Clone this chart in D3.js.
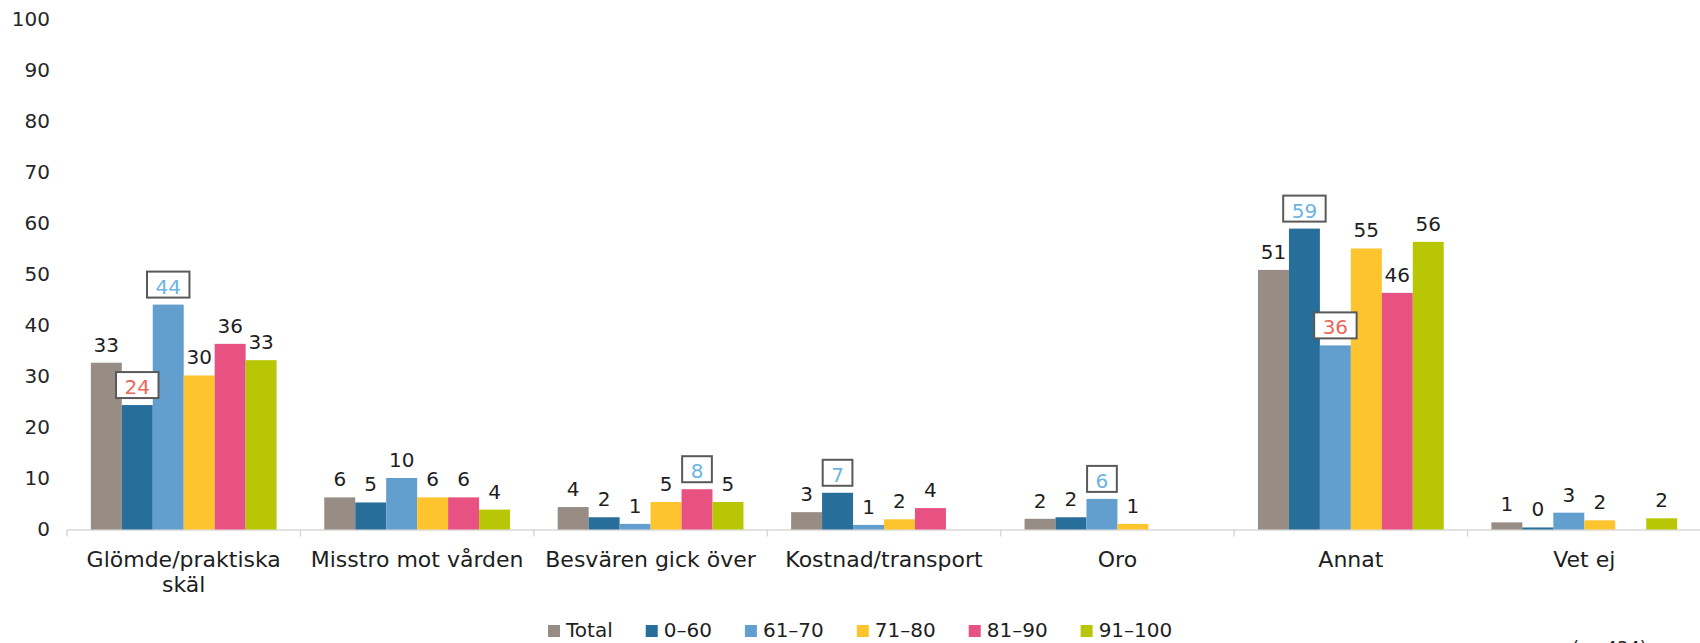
<!DOCTYPE html>
<html lang="sv">
<head>
<meta charset="utf-8">
<script src="https://cdn.jsdelivr.net/npm/d3@7"></script>
<style>
  html, body { margin: 0; padding: 0; background: #fff; }
  svg { display: block; font-family: "DejaVu Sans", sans-serif; }
</style>
</head>
<body>
<svg id="chart" width="1700" height="643"></svg>
<script>
// Reasons for not seeking care, percent by age group
const categories = ["Glömde/praktiska skäl", "Misstro mot vården", "Besvären gick över",
                    "Kostnad/transport", "Oro", "Annat", "Vet ej"];
const seriesNames = ["Total", "0–60", "61–70", "71–80", "81–90", "91–100"];
const seriesColors = ["#978D85", "#286E9B", "#629FCF", "#FDC42E", "#E85283", "#B8C605"];

const total    = [32.7, 6.3, 4.4, 3.4, 2.1, 50.9, 1.4];
const age0_60  = [24.4, 5.3, 2.4, 7.2, 2.4, 59.0, 0.4];
const age61_70 = [44.1, 10.1, 1.1, 0.9, 6.0, 36.1, 3.3];
const age71_80 = [30.2, 6.3, 5.4, 2.0, 1.1, 55.1, 1.8];
const age81_90 = [36.4, 6.3, 7.9, 4.2, null, 46.4, null];
const age91_100 = [33.2, 3.9, 5.4, null, null, 56.4, 2.2];
const seriesValues = [total, age0_60, age61_70, age71_80, age81_90, age91_100];

// Groups that differ significantly from the total
const sigHigher = [["Glömde/praktiska skäl", "61–70"], ["Besvären gick över", "81–90"],
                   ["Kostnad/transport", "0–60"], ["Oro", "61–70"], ["Annat", "0–60"]];
const sigLower  = [["Glömde/praktiska skäl", "0–60"], ["Annat", "61–70"]];

const yTicks = [0, 10, 20, 30, 40, 50, 60, 70, 80, 90, 100];
const footnote = "(n=434)";

const svg = d3.select("#chart");

const x0 = d3.scaleBand().domain(categories).range([67, 1701]).paddingInner(0).paddingOuter(0);
const x1 = d3.scaleBand().domain(seriesNames).range([0, x0.bandwidth()]).paddingInner(0).paddingOuter(0.77);
const y = d3.scaleLinear().domain([0, 100]).range([529.5, 19.5]);
const color = d3.scaleOrdinal().domain(seriesNames).range(seriesColors);

// y axis: labels only
const yAxis = svg.append("g")
  .attr("transform", "translate(50,0)")
  .call(d3.axisLeft(y).tickValues(yTicks).tickSize(0).tickPadding(0).tickFormat(d3.format("d")));
yAxis.select(".domain").remove();
yAxis.selectAll("text")
  .attr("fill", "#262626")
  .style("font-size", "20px")
  .style("font-family", "'DejaVu Sans', sans-serif");

// x axis line with category separators
const xAxisG = svg.append("g");
xAxisG.append("line")
  .attr("x1", x0.range()[0]).attr("x2", x0.range()[1])
  .attr("y1", y(0) + 0.5).attr("y2", y(0) + 0.5)
  .attr("stroke", "#D9D9D9").attr("stroke-width", 1.5);
const bounds = categories.map(c => x0(c)).concat([x0.range()[1]]);
xAxisG.selectAll("line.sep").data(bounds).join("line")
  .attr("class", "sep")
  .attr("x1", d => d).attr("x2", d => d)
  .attr("y1", y(0)).attr("y2", y(0) + 7)
  .attr("stroke", "#D9D9D9").attr("stroke-width", 1.5);

// flatten data
const rows = [];
categories.forEach((c, ci) => {
  seriesNames.forEach((s, si) => {
    const v = seriesValues[si][ci];
    if (v === null || v === undefined) return;
    let sig = null;
    if (sigHigher.some(p => p[0] === c && p[1] === s)) sig = "higher";
    if (sigLower.some(p => p[0] === c && p[1] === s)) sig = "lower";
    rows.push({ category: c, series: s, value: v, sig });
  });
});

const groups = svg.append("g");
groups.selectAll("rect.bar").data(rows).join("rect")
  .attr("class", "bar")
  .attr("x", d => x0(d.category) + x1(d.series))
  .attr("width", x1.bandwidth())
  .attr("y", d => y(d.value))
  .attr("height", d => y(0) - y(d.value))
  .attr("fill", d => color(d.series));

// value labels
const fmt = d3.format(".0f");
const labels = svg.append("g").selectAll("g.lbl").data(rows).join("g").attr("class", "lbl");
labels.each(function (d) {
  const g = d3.select(this);
  const cx = x0(d.category) + x1(d.series) + x1.bandwidth() / 2;
  const base = y(d.value) - 11;
  const t = g.append("text")
    .attr("x", cx).attr("y", base)
    .attr("text-anchor", "middle")
    .style("font-size", "20px")
    .attr("fill", d.sig === "higher" ? "#6CB4E2" : d.sig === "lower" ? "#E8685A" : "#1E1E1E")
    .text(fmt(d.value));
  if (d.sig) {
    const w = t.node().getComputedTextLength() + 17;
    g.insert("rect", "text")
      .attr("x", cx - w / 2).attr("y", base - 22)
      .attr("width", w).attr("height", 26)
      .attr("fill", "#fff")
      .attr("stroke", "#595959").attr("stroke-width", 2);
  }
});

// category labels, wrapped to the band width
const catG = svg.append("g");
categories.forEach(c => {
  const cx = x0(c) + x0.bandwidth() / 2;
  const t = catG.append("text")
    .attr("x", cx).attr("y", 567)
    .attr("text-anchor", "middle")
    .attr("fill", "#1E1E1E")
    .style("font-size", "22px");
  const words = c.split(" ");
  let line = [];
  let lineNo = 0;
  let tspan = t.append("tspan").attr("x", cx).attr("y", 567);
  words.forEach(w => {
    line.push(w);
    tspan.text(line.join(" "));
    if (tspan.node().getComputedTextLength() > x0.bandwidth() - 8 && line.length > 1) {
      line.pop();
      tspan.text(line.join(" "));
      line = [w];
      lineNo += 1;
      tspan = t.append("tspan").attr("x", cx).attr("y", 567 + lineNo * 24.5).text(w);
    }
  });
});

// legend
const legend = svg.append("g");
let lx = 548;
seriesNames.forEach(s => {
  const item = legend.append("g").attr("transform", `translate(${lx},0)`);
  item.append("rect").attr("x", 0).attr("y", 625).attr("width", 12).attr("height", 12)
    .attr("fill", color(s));
  const t = item.append("text").attr("x", 18).attr("y", 637)
    .style("font-size", "20px").attr("fill", "#1E1E1E").text(s);
  lx += 18 + t.node().getComputedTextLength() + 33;
});

// sample size note, running off the bottom edge
svg.append("text")
  .attr("x", 1572).attr("y", 654)
  .style("font-size", "18px").attr("fill", "#1E1E1E")
  .text(footnote);
</script>
</body>
</html>
